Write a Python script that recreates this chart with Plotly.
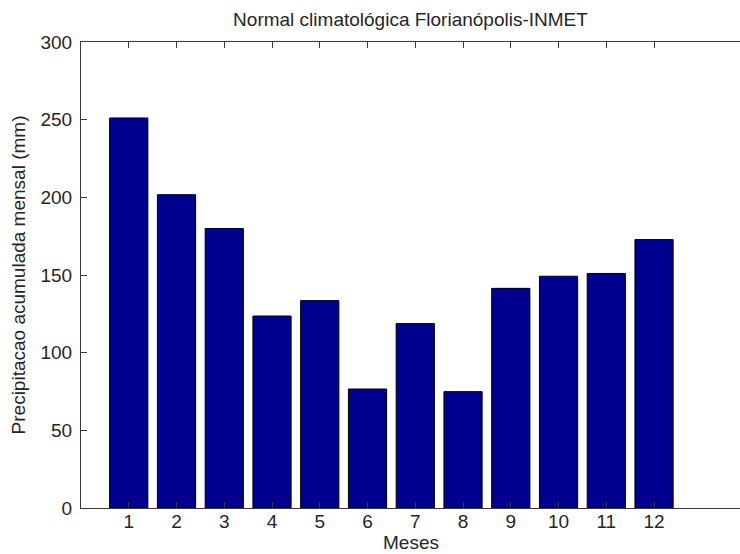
import plotly.graph_objects as go

# Normal climatológica de precipitação, Florianópolis (INMET)
meses = [1, 2, 3, 4, 5, 6, 7, 8, 9, 10, 11, 12]
precipitacao_mm = [251.1, 201.7, 179.9, 123.6, 133.5, 76.6, 118.7, 74.9, 141.4, 149.2, 151.0, 172.8]
y_ticks = [0, 50, 100, 150, 200, 250, 300]

TEXT = "#262626"
AXIS = "#3a3a3a"
FONT = "Liberation Sans, Arial, Helvetica, sans-serif"
FS = 19

MARGIN_T, MARGIN_B = 42, 46
PLOT_H = 554 - MARGIN_T - MARGIN_B

fig = go.Figure(
    go.Bar(
        x=meses,
        y=precipitacao_mm,
        width=0.8,
        marker=dict(color="#00008F", line=dict(color="#000000", width=1)),
    )
)

fig.update_layout(
    width=740,
    height=554,
    margin=dict(l=81, r=0, t=MARGIN_T, b=MARGIN_B),
    paper_bgcolor="white",
    plot_bgcolor="white",
    showlegend=False,
    font=dict(family=FONT, size=FS, color=TEXT),
    title=dict(
        text="Normal climatológica Florianópolis-INMET",
        x=0.5,
        xref="paper",
        xanchor="center",
        y=1,
        yref="container",
        yanchor="top",
        pad=dict(t=13),
        font=dict(family=FONT, size=FS, color=TEXT),
    ),
)

# x-axis title placed at the bottom edge of the figure
fig.add_annotation(
    text="Meses",
    xref="paper",
    yref="paper",
    x=0.5,
    y=-MARGIN_B / PLOT_H,
    xanchor="center",
    yanchor="bottom",
    showarrow=False,
    borderpad=0,
    font=dict(family=FONT, size=FS, color=TEXT),
)

fig.update_xaxes(
    range=[0, 13.8],
    tickmode="array",
    tickvals=meses,
    ticktext=[str(m) for m in meses],
    ticks="inside",
    ticklen=6,
    tickcolor=AXIS,
    showline=True,
    linecolor=AXIS,
    linewidth=1,
    mirror="ticks",
    showgrid=False,
    zeroline=False,
    ticklabelstandoff=-4,
)

fig.update_yaxes(
    range=[0, 300],
    tickmode="array",
    tickvals=y_ticks,
    ticktext=[str(v) for v in y_ticks],
    ticks="inside",
    ticklen=6,
    tickcolor=AXIS,
    showline=True,
    linecolor=AXIS,
    linewidth=1,
    mirror=False,
    showgrid=False,
    zeroline=False,
    ticklabelstandoff=4,
    title=dict(
        text="Precipitacao acumulada mensal (mm)",
        standoff=9,
        font=dict(family=FONT, size=FS, color=TEXT),
    ),
)

fig.write_html("out.html")
